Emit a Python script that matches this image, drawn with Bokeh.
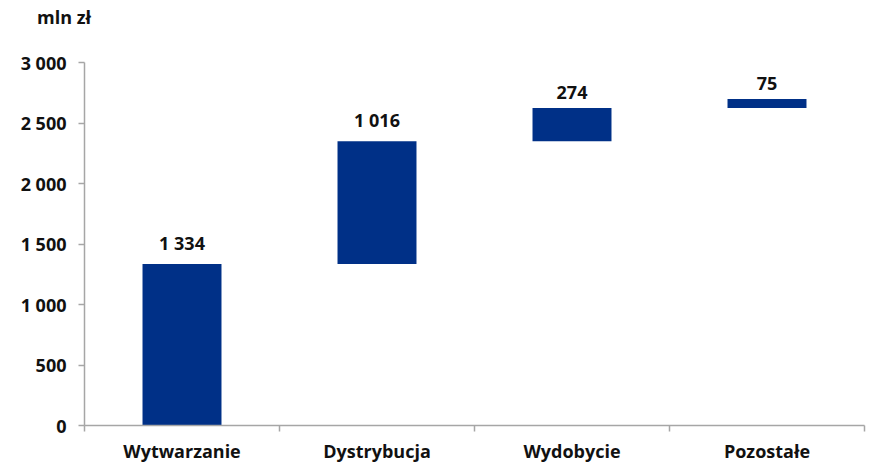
from bokeh.plotting import figure
from bokeh.models import ColumnDataSource, FixedTicker, Range1d, Div
from bokeh.layouts import column
from bokeh.embed import file_html
from bokeh.resources import INLINE
from bokeh.core.properties import value

# Contributions by segment, mln zł
categories = ["Wytwarzanie", "Dystrybucja", "Wydobycie", "Pozostałe"]
values = [1334, 1016, 274, 75]
value_labels = ["1 334", "1 016", "274", "75"]
y_ticks = [0, 500, 1000, 1500, 2000, 2500, 3000]
y_tick_labels = ["0", "500", "1 000", "1 500", "2 000", "2 500", "3 000"]

FONT = "Open Sans"
FONT_STYLE = "bold"
FONT_SIZE = "18px"
BAR_COLOR = "#003087"
AXIS_COLOR = "#a6a6a6"
TEXT_COLOR = "#111111"

# waterfall: each bar starts where the previous one ended
bottoms, tops = [], []
running = 0
for v in values:
    bottoms.append(running)
    running += v
    tops.append(running)

xs = [i + 0.5 for i in range(len(categories))]
source = ColumnDataSource(dict(x=xs, bottom=bottoms, top=tops, label=value_labels))

HEADER_H = 30
p = figure(width=872, height=465 - HEADER_H, output_backend="svg", toolbar_location=None,
           x_range=Range1d(0, len(categories)), y_range=Range1d(0, 3000),
           min_border_left=84, min_border_right=8, min_border_top=62 - HEADER_H,
           min_border_bottom=37)
p.outline_line_color = None
p.background_fill_color = "white"
p.border_fill_color = "white"
p.xgrid.visible = False
p.ygrid.visible = False

p.vbar(x="x", bottom="bottom", top="top", width=0.405, source=source,
       fill_color=BAR_COLOR, line_color=None)

p.text(x="x", y="top", text="label", source=source, text_align="center",
       text_baseline="bottom", y_offset=-9, text_font=value(FONT),
       text_font_style=FONT_STYLE, text_font_size=FONT_SIZE, text_color=TEXT_COLOR)

# x axis: labels at category centres, ticks at category boundaries
xa = p.xaxis[0]
xa.ticker = FixedTicker(ticks=xs, minor_ticks=list(range(len(categories) + 1)))
xa.major_label_overrides = {x: c for x, c in zip(xs, categories)}
xa.major_tick_in = 0
xa.major_tick_out = 0
xa.minor_tick_in = 0
xa.minor_tick_out = 6
xa.minor_tick_line_color = AXIS_COLOR
xa.axis_line_color = AXIS_COLOR
xa.axis_line_width = 1.5
xa.minor_tick_line_width = 1.5
xa.major_label_standoff = 7
xa.major_label_text_font = FONT
xa.major_label_text_font_style = FONT_STYLE
xa.major_label_text_font_size = FONT_SIZE
xa.major_label_text_color = TEXT_COLOR

ya = p.yaxis[0]
ya.ticker = FixedTicker(ticks=y_ticks, minor_ticks=[])
ya.major_label_overrides = {t: l for t, l in zip(y_ticks, y_tick_labels)}
ya.major_tick_in = 0
ya.major_tick_out = 6
ya.major_tick_line_color = AXIS_COLOR
ya.major_tick_line_width = 1.5
ya.axis_line_color = AXIS_COLOR
ya.axis_line_width = 1.5
ya.major_label_standoff = 12
ya.major_label_text_font = FONT
ya.major_label_text_font_style = FONT_STYLE
ya.major_label_text_font_size = FONT_SIZE
ya.major_label_text_color = TEXT_COLOR

# unit caption above the value axis
unit = Div(text="mln zł", width=872, height=HEADER_H, margin=(0, 0, 0, 0),
           styles={"font-family": FONT, "font-weight": FONT_STYLE, "font-size": FONT_SIZE,
                   "color": TEXT_COLOR, "padding-left": "37px", "padding-top": "5px",
                   "line-height": "24px", "background-color": "white"})

layout = column(unit, p, spacing=0, margin=(0, 0, 0, 0))
open("out.html", "w").write(file_html(layout, INLINE))
